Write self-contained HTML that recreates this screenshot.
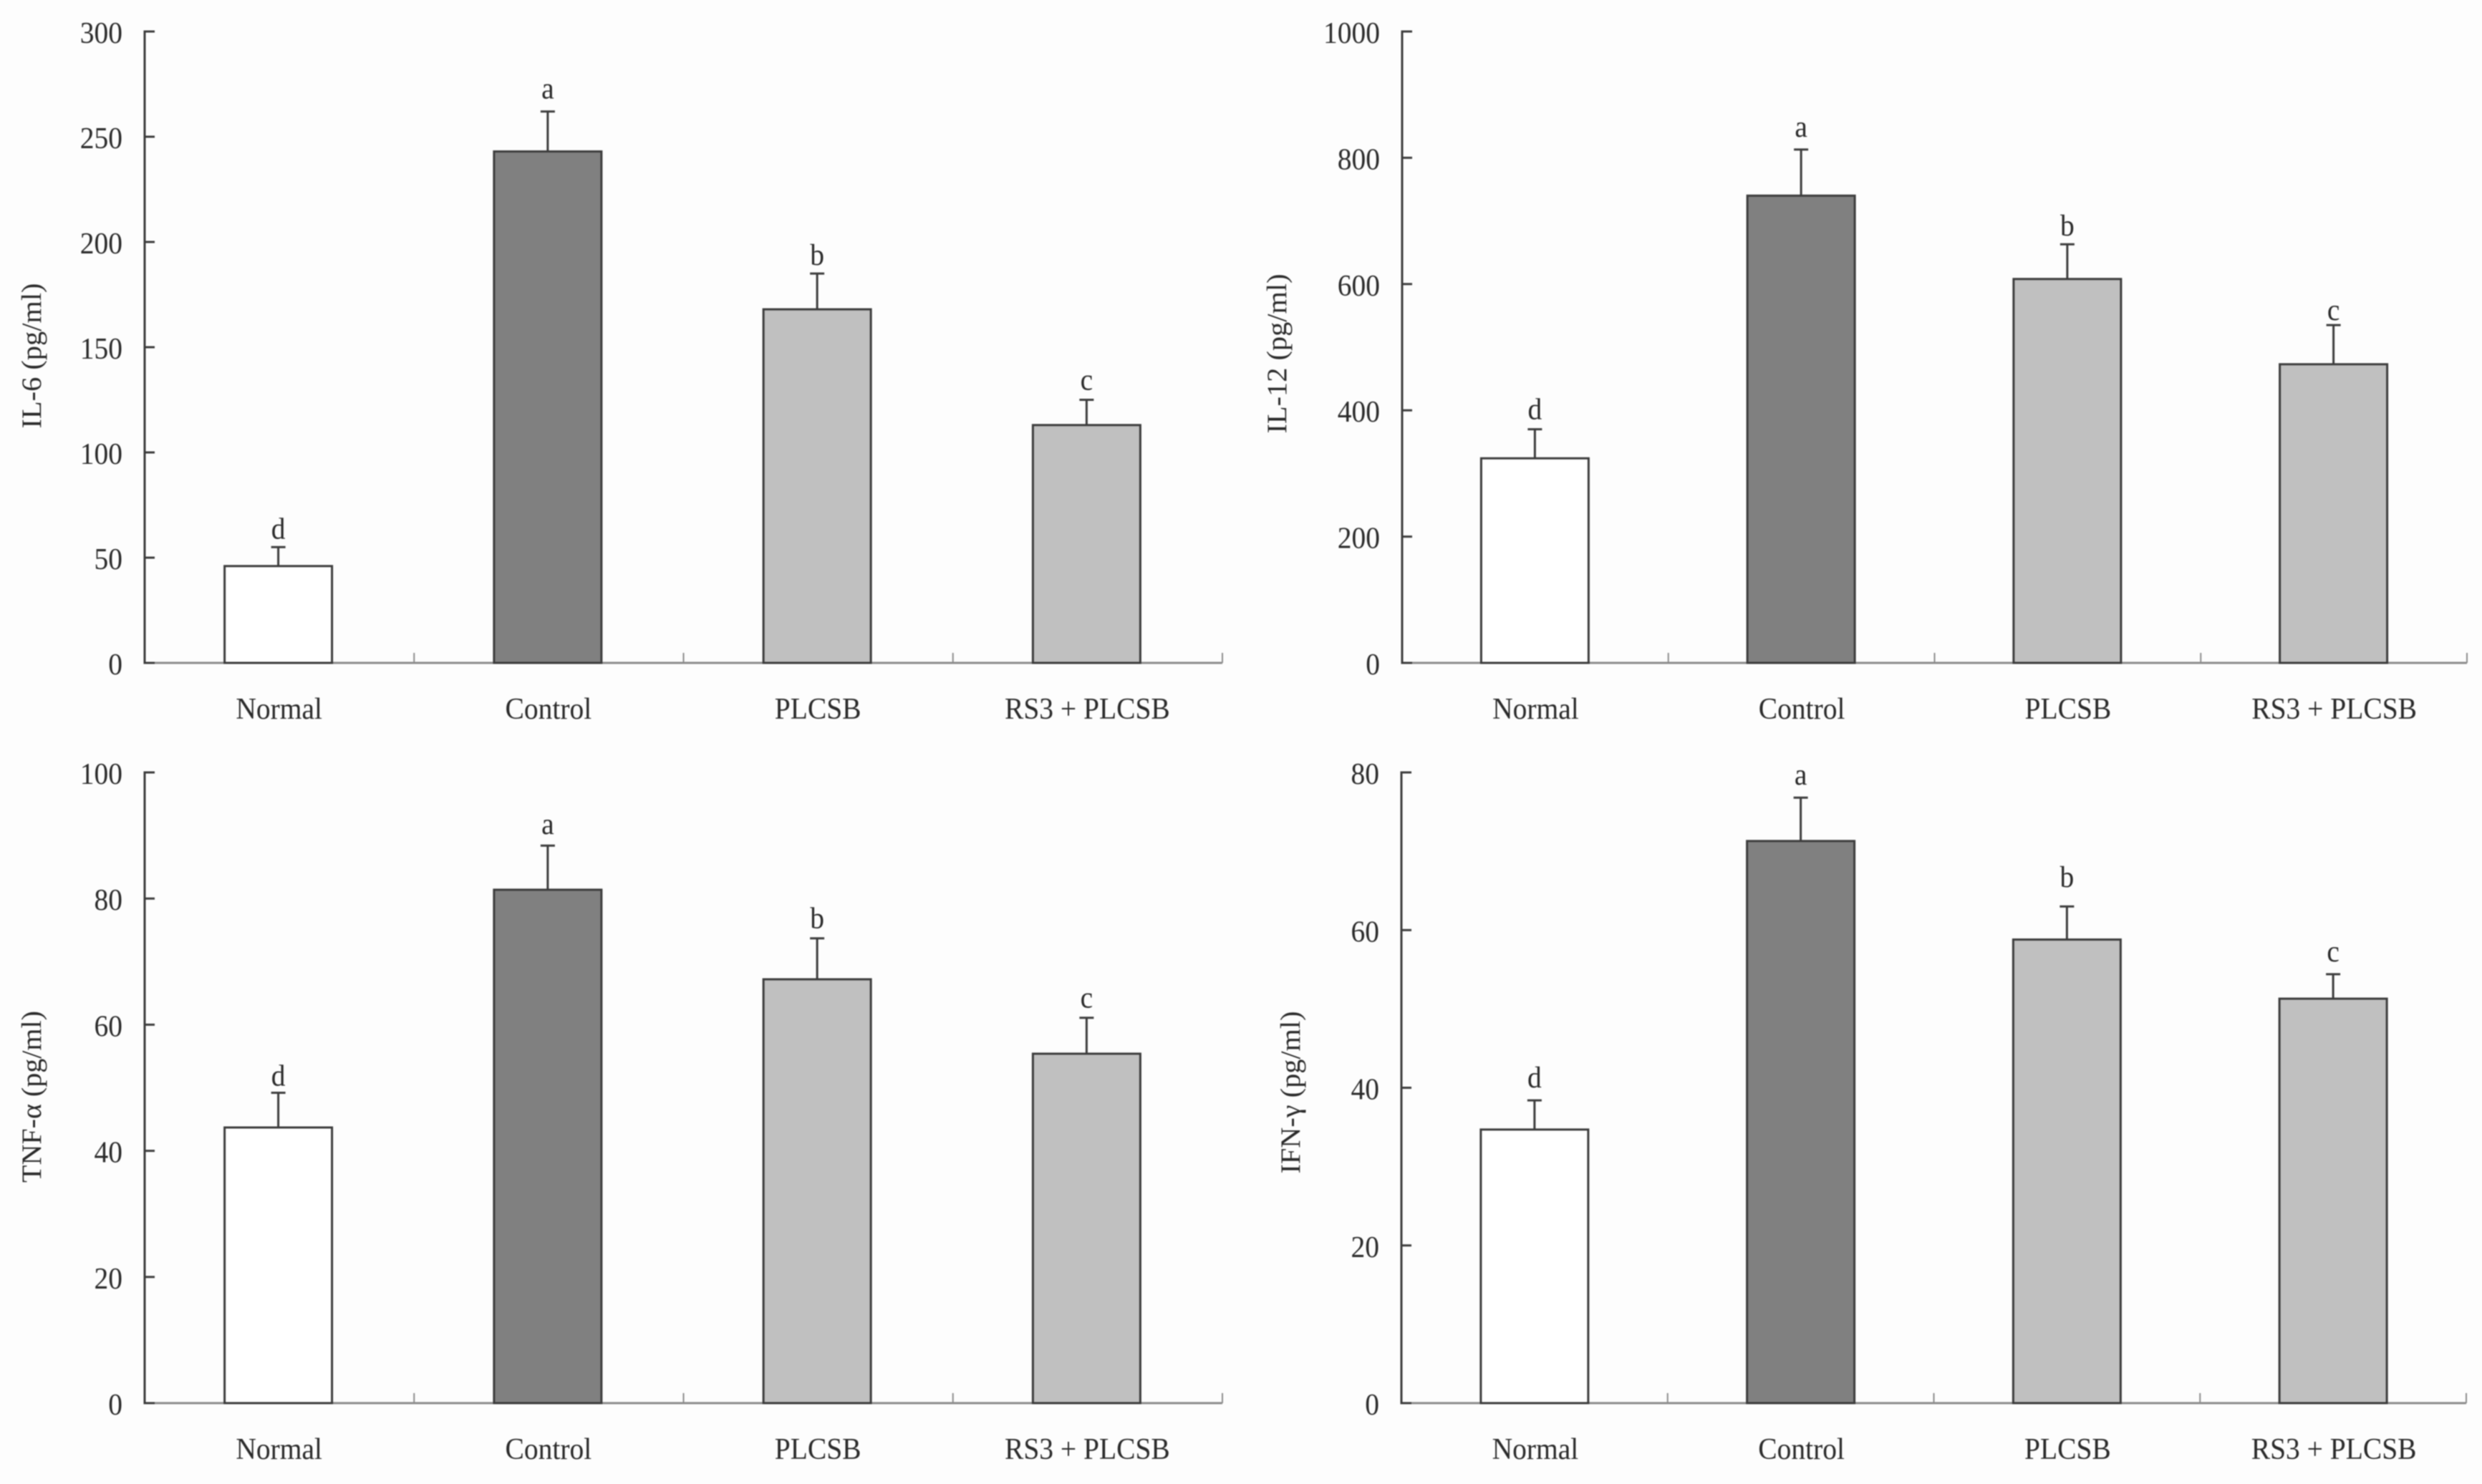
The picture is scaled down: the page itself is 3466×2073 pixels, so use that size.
<!DOCTYPE html>
<html lang="en">
<head>
<meta charset="utf-8">
<title>Cytokine levels by treatment group</title>
<style>
  html, body { margin: 0; padding: 0; background: #fdfdfd; }
  body { width: 3466px; height: 2073px; overflow: hidden; }
  #figure { display: block; filter: blur(0.7px); }
  text { font-family: "Liberation Serif", serif; fill: #2a2a2a; }
</style>
</head>
<body>
<svg id="figure" xmlns="http://www.w3.org/2000/svg" width="3466" height="2073" viewBox="0 0 3466 2073"></svg>
<script>
const categories = ['Normal', 'Control', 'PLCSB', 'RS3 + PLCSB'];
const significance = ['d', 'a', 'b', 'c'];
const barFills = ['#ffffff', '#808080', '#c0c0c0', '#c0c0c0'];

const il6Values = [46, 243, 168, 113];
const il6Errors = [9, 19, 17, 12];
const il6Ticks = [0, 50, 100, 150, 200, 250, 300];

const il12Values = [324, 740, 608, 473];
const il12Errors = [46, 73, 55, 62];
const il12Ticks = [0, 200, 400, 600, 800, 1000];

const tnfValues = [43.7, 81.4, 67.2, 55.4];
const tnfErrors = [5.5, 7, 6.5, 5.7];
const tnfTicks = [0, 20, 40, 60, 80, 100];

const ifnValues = [34.7, 71.3, 58.8, 51.3];
const ifnErrors = [3.7, 5.5, 4.2, 3.1];
const ifnTicks = [0, 20, 40, 60, 80];

const panels = [
  { id: 'il6', title: 'IL-6 (pg/ml)', values: il6Values, errors: il6Errors, ticks: il6Ticks,
    left: 202, right: 1707, top: 44, bottom: 926, titleX: 57, titleY: 497, titleLen: 203,
    barShift: -1.5, letterGaps: [12, 18, 12, 14] },
  { id: 'il12', title: 'IL-12 (pg/ml)', values: il12Values, errors: il12Errors, ticks: il12Ticks,
    left: 1958, right: 3445, top: 44, bottom: 926, titleX: 1796, titleY: 494, titleLen: 223,
    barShift: -0.5, letterGaps: [14, 18, 12, 7] },
  { id: 'tnf', title: 'TNF-\u03b1 (pg/ml)', values: tnfValues, errors: tnfErrors, ticks: tnfTicks,
    left: 202, right: 1707, top: 1079, bottom: 1960, titleX: 57, titleY: 1532, titleLen: 240,
    barShift: -1.5, letterGaps: [10, 16, 14, 14] },
  { id: 'ifn', title: 'IFN-\u03b3 (pg/ml)', values: ifnValues, errors: ifnErrors, ticks: ifnTicks,
    left: 1957, right: 3444, top: 1079, bottom: 1960, titleX: 1815, titleY: 1526, titleLen: 227,
    barShift: 0, letterGaps: [18, 18, 27, 18] }
];

const svg = document.getElementById('figure');
const NS = 'http://www.w3.org/2000/svg';
const DARK = '#3c3c3c';
const LIGHT = '#8c8c8c';
const FONT = 39.5;
const STRETCH = 1.07;
const BAR_WIDTH = 150;

function make(parent, tag, attrs, content) {
  const el = document.createElementNS(NS, tag);
  for (const k in attrs) el.setAttribute(k, attrs[k]);
  if (content !== undefined) el.textContent = content;
  parent.appendChild(el);
  return el;
}
function label(parent, x, y, str, anchor) {
  return make(parent, 'text', {
    transform: 'translate(' + x + ' ' + y + ') scale(1 ' + STRETCH + ')',
    'font-size': FONT,
    'text-anchor': anchor
  }, str);
}

panels.forEach(function (p) {
  const maxTick = p.ticks[p.ticks.length - 1];
  const yScale = function (v) { return p.bottom - (v / maxTick) * (p.bottom - p.top); };
  const band = (p.right - p.left) / categories.length;
  const xCenter = function (i) { return p.left + band * (i + 0.5) + p.barShift; };
  const xEdge = function (i) { return p.left + band * (i + 1); };

  const g = make(svg, 'g', {});
  
  

  const xAxis = make(g, 'line', { x1: p.left, x2: p.right, y1: p.bottom, y2: p.bottom, stroke: LIGHT, 'stroke-width': 3 });
  
  

  categories.forEach(function (c, i) {
    const edge = make(g, 'line', { x1: xEdge(i), x2: xEdge(i), y1: p.bottom, y2: p.bottom - 14, stroke: LIGHT, 'stroke-width': 2 });
    
    

    const cat = label(g, xCenter(i) + 1, p.bottom + 78, c, 'middle');
    
    

    const errTop = yScale(p.values[i] + p.errors[i]);
    const stem = make(g, 'line', { x1: xCenter(i), x2: xCenter(i), y1: yScale(p.values[i]), y2: errTop, stroke: DARK, 'stroke-width': 3 });
    
    

    const cap = make(g, 'line', { x1: xCenter(i) - 10, x2: xCenter(i) + 10, y1: errTop, y2: errTop, stroke: DARK, 'stroke-width': 3 });
    
    

    const bar = make(g, 'rect', {
      x: xCenter(i) - BAR_WIDTH / 2, y: yScale(p.values[i]), width: BAR_WIDTH,
      height: p.bottom - yScale(p.values[i]), fill: barFills[i], stroke: DARK, 'stroke-width': 3
    });
    
    

    const sig = label(g, xCenter(i), errTop - p.letterGaps[i], significance[i], 'middle');
    
    
  });

  const yAxis = make(g, 'line', { x1: p.left, x2: p.left, y1: p.top - 1.5, y2: p.bottom + 1.5, stroke: DARK, 'stroke-width': 3 });
  
  

  p.ticks.forEach(function (t) {
    const tick = make(g, 'line', { x1: p.left, x2: p.left + 14, y1: yScale(t), y2: yScale(t), stroke: DARK, 'stroke-width': 3 });
    
    

    const tl = label(g, p.left - 31, yScale(t) + 16, String(t), 'end');
    
    
  });

  const title = make(g, 'text', {
    transform: 'translate(' + p.titleX + ' ' + p.titleY + ') rotate(-90)',
    'font-size': FONT,
    'text-anchor': 'middle',
    textLength: p.titleLen,
    lengthAdjust: 'spacingAndGlyphs'
  }, p.title);
  
  
});
</script>
</body>
</html>
